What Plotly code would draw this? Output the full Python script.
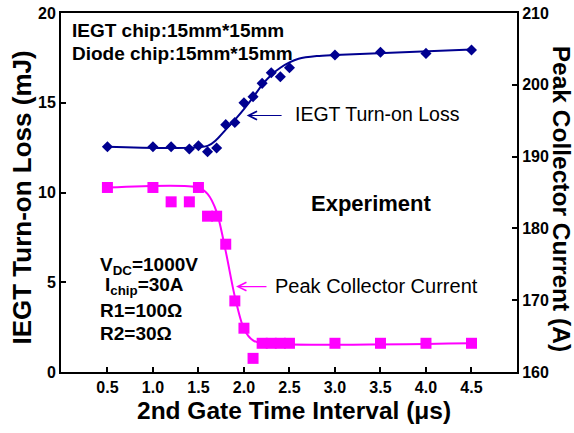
import plotly.graph_objects as go

# ---- data ----
x_ticks = [0.5, 1.0, 1.5, 2.0, 2.5, 3.0, 3.5, 4.0, 4.5]
x_ticktext = ["0.5", "1.0", "1.5", "2.0", "2.5", "3.0", "3.5", "4.0", "4.5"]
y1_ticks = [0, 5, 10, 15, 20]
y2_ticks = [160, 170, 180, 190, 200, 210]

interval = [0.5, 1.0, 1.2, 1.4, 1.5, 1.6, 1.7, 1.8, 1.9, 2.0,
            2.1, 2.2, 2.3, 2.4, 2.5, 3.0, 3.5, 4.0, 4.5]
turn_on_loss = [12.55, 12.55, 12.55, 12.42, 12.6, 12.27, 12.48, 13.78, 13.9, 15.0,
                15.34, 16.08, 16.67, 16.45, 16.95, 17.66, 17.81, 17.75, 17.94]
peak_current = [185.7, 185.7, 183.7, 183.7, 185.7, 181.7, 181.7, 177.8, 169.9, 166.1,
                161.9, 164.0, 164.0, 164.0, 164.0, 164.0, 164.0, 164.0, 164.0]

loss_fit_x = [0.5, 1.6, 1.7, 1.8, 1.9, 2.0, 2.1, 2.2, 2.3, 2.4, 2.5, 2.6, 2.8, 3.0, 4.5]
loss_fit_y = [12.55, 12.6, 12.95, 13.5, 14.05, 14.65, 15.3, 16.0, 16.55, 16.95,
              17.25, 17.45, 17.6, 17.66, 17.96]
cur_fit_x = [0.5, 1.5, 1.6, 1.7, 1.8, 1.9, 2.0, 2.1, 2.2, 4.5]
cur_fit_y = [185.7, 185.7, 184.8, 182.3, 176.8, 170.5, 166.0, 164.4, 164.0, 164.0]

NAVY = "#000090"
MAG = "#FF00FF"
FONT = "Liberation Sans, Arial, sans-serif"

fig = go.Figure()
fig.add_trace(go.Scatter(x=loss_fit_x, y=loss_fit_y, mode="lines",
                         line=dict(color=NAVY, width=2, shape="spline", smoothing=0.8),
                         showlegend=False, hoverinfo="skip"))
fig.add_trace(go.Scatter(x=cur_fit_x, y=cur_fit_y, mode="lines", yaxis="y2",
                         line=dict(color=MAG, width=2, shape="spline", smoothing=0.8),
                         showlegend=False, hoverinfo="skip"))
fig.add_trace(go.Scatter(x=interval, y=turn_on_loss, mode="markers",
                         marker=dict(symbol="diamond", size=8.5, color=NAVY),
                         showlegend=False))
fig.add_trace(go.Scatter(x=interval, y=peak_current, mode="markers", yaxis="y2",
                         marker=dict(symbol="square", size=11, color=MAG),
                         showlegend=False))

axis_common = dict(showgrid=False, zeroline=False, ticks="inside", ticklen=5,
                   tickwidth=1.5, tickcolor="black", linecolor="black", linewidth=2,
                   showline=True, automargin=False,
                   tickfont=dict(family=FONT, size=16, color="black", weight="bold"))

fig.update_layout(
    width=574, height=433,
    margin=dict(l=61, r=57, t=13, b=61),
    paper_bgcolor="white", plot_bgcolor="white",
    font=dict(family=FONT, color="black"),
    xaxis=dict(range=[-0.01, 5.0], tickvals=x_ticks, ticktext=x_ticktext,
               mirror=True, **axis_common),
    yaxis=dict(range=[0, 20], tickvals=y1_ticks, **axis_common),
    yaxis2=dict(range=[160, 210], tickvals=y2_ticks, overlaying="y", side="right",
                **axis_common),
)

# axis titles
def title(text, x, y, angle, size):
    fig.add_annotation(x=x, y=y, xref="paper", yref="paper", text=text,
                       showarrow=False, textangle=angle,
                       xanchor="center", yanchor="middle",
                       font=dict(family=FONT, size=size, color="black", weight="bold"))

title("2nd Gate Time Interval (μs)", 0.512, -0.108, 0, 24.5)
title("IEGT Turn-on Loss (mJ)", -0.0855, 0.486, -90, 26)
title("Peak Collector Current (A)", 1.097, 0.482, 90, 24.5)

def label(text, x, y, size=19, bold=True, anchor="left"):
    fig.add_annotation(x=x, y=y, xref="x", yref="y", text=text, showarrow=False,
                       xanchor=anchor, yanchor="middle",
                       font=dict(family=FONT, size=size, color="black",
                                 weight="bold" if bold else "normal"))

label("IEGT chip:15mm*15mm", 0.09, 19.0)
label("Diode chip:15mm*15mm", 0.09, 17.72)
label("IEGT Turn-on Loss", 2.54, 14.35, size=19.5, bold=False)
label("Experiment", 3.40, 9.36, size=22, anchor="center")
label("Peak Collector Current", 2.32, 4.79, size=20, bold=False)
label("V<sub>DC</sub>=1000V", 0.40, 5.9)
label("I<sub>chip</sub>=30A", 0.455, 4.79)
label("R1=100Ω", 0.40, 3.42)
label("R2=30Ω", 0.40, 2.14)

# arrows
fig.add_annotation(x=2.03, y=14.29, ax=2.43, ay=14.29, xref="x", yref="y",
                   axref="x", ayref="y", text="", showarrow=True,
                   arrowhead=5, arrowwidth=1.2, arrowsize=1.4, arrowcolor=NAVY)
fig.add_annotation(x=1.913, y=4.76, ax=2.264, ay=4.76, xref="x", yref="y",
                   axref="x", ayref="y", text="", showarrow=True,
                   arrowhead=5, arrowwidth=1.2, arrowsize=1.4, arrowcolor=MAG)

fig.write_html("out.html", config={"displayModeBar": False},
               post_script="document.body.style.margin='0';document.body.style.overflow='hidden';")
